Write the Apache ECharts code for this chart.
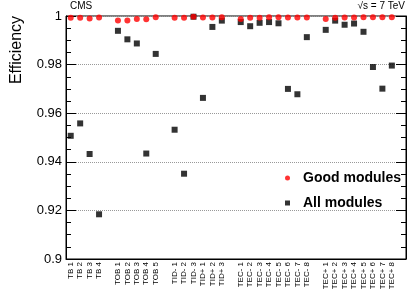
<!DOCTYPE html>
<html>
<head>
<meta charset="utf-8">
<script src="https://cdn.jsdelivr.net/npm/echarts@6/dist/echarts.min.js"></script>
<style>html,body{margin:0;padding:0;background:#fff}#c{width:415px;height:298px}</style>
</head>
<body>
<div id="c"></div>
<script>
var categories = ['TB 1','TB 2','TB 3','TB 4','',
  'TOB 1','TOB 2','TOB 3','TOB 4','TOB 5','',
  'TID- 1','TID- 2','TID- 3','TID+ 1','TID+ 2','TID+ 3','',
  'TEC- 1','TEC- 2','TEC- 3','TEC- 4','TEC- 5','TEC- 6','TEC- 7','TEC- 8','',
  'TEC+ 1','TEC+ 2','TEC+ 3','TEC+ 4','TEC+ 5','TEC+ 6','TEC+ 7','TEC+ 8',''];
var goodModules = [0.9993,0.9993,0.9990,0.9994,null,
  0.9981,0.9981,0.9988,0.9987,0.9995,null,
  0.9993,0.9993,0.9997,0.9994,0.9994,0.9995,null,
  0.9988,0.9993,0.9993,0.9995,0.9995,0.9994,0.9994,0.9994,null,
  0.9988,0.9993,0.9994,0.9994,0.9995,0.9995,0.9995,0.9995,null];
var allModules = [0.9507,0.9558,0.9432,0.9184,null,
  0.9939,0.9904,0.9887,0.9434,0.9844,null,
  0.9532,0.9351,0.9997,0.9663,0.9955,0.9981,null,
  0.9975,0.9958,0.9972,0.9975,0.9970,0.9700,0.9678,0.9913,null,
  0.9943,0.9981,0.9964,0.9969,0.9935,0.9790,0.9701,0.9796,null];
var FONT = 'Liberation Sans';
var chart = echarts.init(document.getElementById('c'), null, {renderer: 'canvas'});
var yCommon = {
  type: 'value', min: 0.9, max: 1, interval: 0.02,
  axisLine: {show: true, lineStyle: {color: '#000', width: 1}},
  axisTick: {show: true, inside: true, length: 10, lineStyle: {color: '#000'}},
  minorTick: {show: true, splitNumber: 4, length: 5, lineStyle: {color: '#000'}}
};
chart.setOption({
  animation: false,
  textStyle: {fontFamily: FONT},
  grid: {left: 66, right: 9, top: 16, bottom: 39, show: true, borderColor: '#000', borderWidth: 1},
  xAxis: {
    type: 'category', data: categories, boundaryGap: true,
    axisLine: {show: true, lineStyle: {color: '#000'}},
    axisTick: {show: false},
    axisLabel: {rotate: 90, interval: 0, fontSize: 8, color: '#000', margin: 3, fontFamily: FONT},
    splitLine: {show: false}
  },
  yAxis: [
    Object.assign({}, yCommon, {
      position: 'left',
      axisLabel: {fontSize: 13, color: '#000', margin: 4, fontFamily: FONT},
      splitLine: {show: true, lineStyle: {color: '#999', type: 'dotted', width: 1}}
    }),
    Object.assign({}, yCommon, {
      position: 'right',
      axisLabel: {show: false},
      splitLine: {show: false}
    })
  ],
  legend: {
    orient: 'vertical', left: 280, top: 166, itemWidth: 5, itemHeight: 5, itemGap: 11,
    data: ['Good modules', 'All modules'],
    textStyle: {fontSize: 14, fontWeight: 'bold', color: '#000', fontFamily: FONT, padding: [0, 0, 0, 8]}
  },
  series: [
    {name: 'All modules', type: 'scatter', data: allModules, symbol: 'rect', symbolSize: 6,
     itemStyle: {color: '#000'}},
    {name: 'Good modules', type: 'scatter', data: goodModules, symbol: 'circle', symbolSize: 6,
     itemStyle: {color: '#ff0000'}}
  ],
  graphic: [
    {type: 'text', left: 70, top: 1, style: {text: 'CMS', font: '10px ' + FONT, fill: '#000'}},
    {type: 'text', right: 10, top: 1, style: {text: '\u221As = 7 TeV', font: '10px ' + FONT, fill: '#000'}},
    {type: 'text', x: 17, y: 50, rotation: Math.PI / 2,
     style: {text: 'Efficiency', font: '16px ' + FONT, fill: '#000', align: 'center', verticalAlign: 'middle'}}
  ]
});
</script>
</body>
</html>
